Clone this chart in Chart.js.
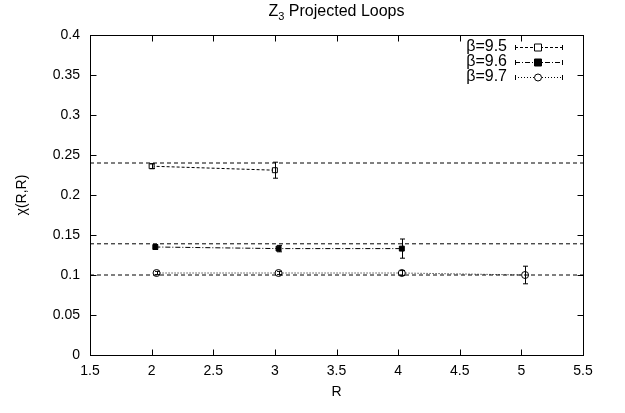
<!DOCTYPE html>
<html>
<head>
<meta charset="utf-8">
<script src="https://cdn.jsdelivr.net/npm/chart.js@4"></script>
<style>
  html, body { margin: 0; padding: 0; background: #fff; }
  #wrap { width: 625px; height: 413px; }
</style>
</head>
<body>
<div id="wrap"><canvas id="chart" width="625" height="413"></canvas></div>
<script>
// values
const labels = ["β=9.5", "β=9.6", "β=9.7"]
const r95 = [2, 3]
const chi95 = [0.236, 0.231]
const err95 = [0.003, 0.01]
const r96 = [2.03, 3.03, 4.03]
const chi96 = [0.135, 0.133, 0.133]
const err96 = [0.003, 0.004, 0.012]
const r97 = [2.04, 3.03, 4.03, 5.03]
const chi97 = [0.1025, 0.1025, 0.1025, 0.1]
const err97 = [0.002, 0.002, 0.003, 0.011]
const fitLevels = [0.24, 0.139, 0.1]
const xRange = [1.5, 5.5]

const FONT = "Liberation Sans, Arial, Helvetica, sans-serif"

const pts = (xs, ys) => xs.map((x, i) => ({ x: x, y: ys[i] }))

const series = [
  { label: labels[0], data: pts(r95, chi95), err: err95, style: "rect", fill: "#fff", dash: [3, 2] },
  { label: labels[1], data: pts(r96, chi96), err: err96, style: "rect", fill: "#000", dash: [5, 2, 1, 2] },
  { label: labels[2], data: pts(r97, chi97), err: err97, style: "circle", fill: "#fff", dash: [1, 2] }
]

const datasets = []
fitLevels.forEach(v => {
  datasets.push({
    data: [{ x: xRange[0], y: v }, { x: xRange[1], y: v }],
    showLine: true, borderColor: "#000", borderWidth: 1, borderDash: [4, 3],
    pointRadius: 0
  })
})
series.forEach(s => {
  datasets.push({
    label: s.label, data: s.data, err: s.err,
    showLine: true, borderColor: "#000", borderWidth: 1, borderDash: s.dash,
    pointStyle: s.style, pointRadius: 3.5, pointBorderWidth: 1,
    pointBorderColor: "#000", pointBackgroundColor: s.fill
  })
})

// gnuplot-like frame, ticks, error bars, legend and titles
const decor = {
  id: "decor",
  afterDatasetsDraw(chart) {
    const ctx = chart.ctx, a = chart.chartArea
    const xs = chart.scales.x, ys = chart.scales.y
    ctx.save()

    // error bars
    ctx.strokeStyle = "#000"
    ctx.lineWidth = 1
    ctx.setLineDash([])
    chart.data.datasets.forEach(ds => {
      if (!ds.err) return
      ds.data.forEach((p, i) => {
        const px = Math.round(xs.getPixelForValue(p.x)) + 0.5
        const y1 = ys.getPixelForValue(p.y - ds.err[i])
        const y2 = ys.getPixelForValue(p.y + ds.err[i])
        ctx.beginPath()
        ctx.moveTo(px, y1); ctx.lineTo(px, y2)
        ctx.moveTo(px - 2.5, y1); ctx.lineTo(px + 2.5, y1)
        ctx.moveTo(px - 2.5, y2); ctx.lineTo(px + 2.5, y2)
        ctx.stroke()
      })
    })

    // frame
    const L = Math.round(a.left) + 0.5, R = Math.round(a.right) + 0.5
    const T = Math.round(a.top) + 0.5, B = Math.round(a.bottom) + 0.5
    ctx.strokeRect(L, T, R - L, B - T)

    // inward ticks on all four sides
    ctx.beginPath()
    xs.ticks.forEach(t => {
      const px = Math.round(xs.getPixelForValue(t.value)) + 0.5
      ctx.moveTo(px, B); ctx.lineTo(px, B - 6)
      ctx.moveTo(px, T); ctx.lineTo(px, T + 6)
    })
    ys.ticks.forEach(t => {
      const py = Math.round(ys.getPixelForValue(t.value)) + 0.5
      ctx.moveTo(L, py); ctx.lineTo(L + 6, py)
      ctx.moveTo(R, py); ctx.lineTo(R - 6, py)
    })
    ctx.stroke()

    // legend
    ctx.fillStyle = "#000"
    ctx.font = "16px " + FONT
    ctx.textAlign = "right"
    ctx.textBaseline = "middle"
    series.forEach((s, i) => {
      const y = 47 + i * 15
      ctx.fillText(s.label, 507, y)
      const x0 = 515, x1 = 562, xm = 538
      ctx.setLineDash(s.dash)
      ctx.beginPath()
      ctx.moveTo(x0, y + 0.5); ctx.lineTo(x1, y + 0.5)
      ctx.stroke()
      ctx.setLineDash([])
      ctx.beginPath()
      ctx.moveTo(x0 + 0.5, y - 2); ctx.lineTo(x0 + 0.5, y + 3)
      ctx.moveTo(x1 + 0.5, y - 2); ctx.lineTo(x1 + 0.5, y + 3)
      ctx.stroke()
      ctx.fillStyle = s.fill
      ctx.beginPath()
      if (s.style === "circle") ctx.arc(xm, y + 0.5, 3.5, 0, Math.PI * 2)
      else ctx.rect(xm - 3.5, y - 3, 7, 7)
      ctx.fill(); ctx.stroke()
      ctx.fillStyle = "#000"
    })

    // title with subscript
    ctx.textAlign = "left"
    ctx.textBaseline = "alphabetic"
    const part1 = "Z", part3 = " Projected Loops"
    ctx.font = "11px " + FONT
    const wSub = ctx.measureText("3").width
    ctx.font = "16px " + FONT
    const w1 = ctx.measureText(part1).width, w3 = ctx.measureText(part3).width
    let tx = (a.left + a.right) / 2 - (w1 + wSub + w3) / 2
    ctx.fillText(part1, tx, 16)
    ctx.font = "11px " + FONT
    ctx.fillText("3", tx + w1, 20)
    ctx.font = "16px " + FONT
    ctx.fillText(part3, tx + w1 + wSub, 16)

    // axis titles
    ctx.font = "14px " + FONT
    ctx.textAlign = "center"
    ctx.textBaseline = "middle"
    ctx.fillText("R", (a.left + a.right) / 2, 392)
    ctx.translate(22, (a.top + a.bottom) / 2)
    ctx.rotate(-Math.PI / 2)
    ctx.fillText("χ(R,R)", 0, 0)
    ctx.restore()
  }
}

new Chart(document.getElementById("chart"), {
  type: "scatter",
  data: { datasets: datasets },
  options: {
    responsive: false,
    animation: false,
    layout: { padding: { top: 35, right: 42, left: 0, bottom: 0 } },
    plugins: { legend: { display: false }, tooltip: { enabled: false }, title: { display: false } },
    scales: {
      x: {
        type: "linear", min: xRange[0], max: xRange[1],
        grid: { display: false }, border: { display: false },
        ticks: { stepSize: 0.5, color: "#000", font: { family: FONT, size: 14 }, padding: 0, maxRotation: 0,
          callback: v => String(+v.toFixed(1)) },
        afterFit: s => { s.height = 58 }
      },
      y: {
        min: 0, max: 0.4,
        grid: { display: false }, border: { display: false },
        ticks: { stepSize: 0.05, color: "#000", font: { family: FONT, size: 14 }, padding: 2,
          callback: v => String(+v.toFixed(2)) },
        afterFit: s => { s.width = 90 }
      }
    }
  },
  plugins: [decor]
})
</script>
</body>
</html>
